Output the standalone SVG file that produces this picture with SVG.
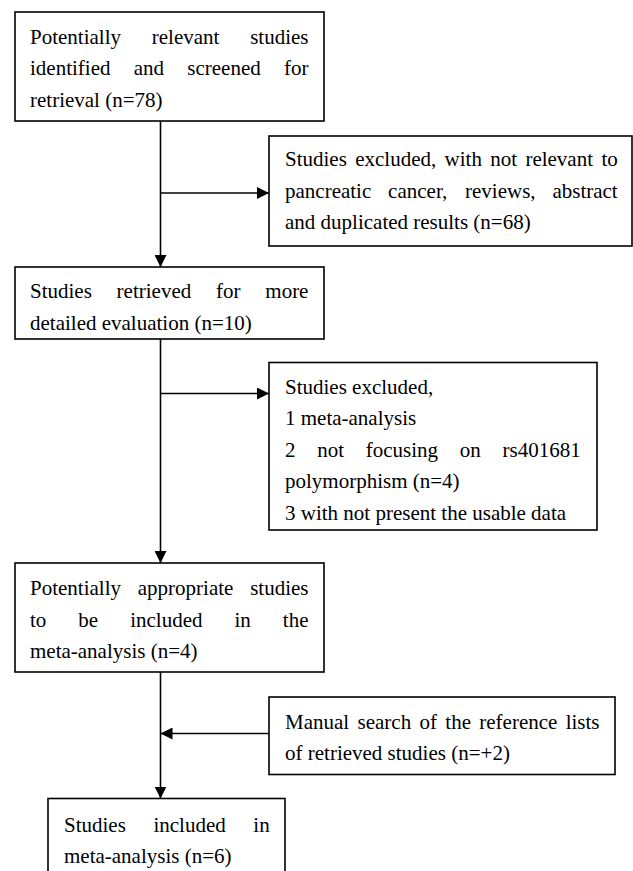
<svg xmlns="http://www.w3.org/2000/svg" width="633" height="871" viewBox="0 0 633 871">
<style>
.box{fill:#fff;stroke:#000;stroke-width:1.6}
.t{font-family:"Liberation Serif","Times New Roman",serif;font-size:21px;fill:#000}
.c{fill:none;stroke:#000;stroke-width:1.6}
</style>
<defs>
<marker id="ah" markerUnits="userSpaceOnUse" markerWidth="12" markerHeight="12" refX="12" refY="6" orient="auto">
<path d="M0,0 L12,6 L0,12 z" fill="#000"/>
</marker>
</defs>
<rect width="633" height="871" fill="#fff"/>
<g id="connectors">
<line class="c" x1="160.5" y1="121" x2="160.5" y2="267" marker-end="url(#ah)"/>
<line class="c" x1="160.5" y1="193" x2="269" y2="193" marker-end="url(#ah)"/>
<line class="c" x1="160.5" y1="339" x2="160.5" y2="563" marker-end="url(#ah)"/>
<line class="c" x1="160.5" y1="393.5" x2="269" y2="393.5" marker-end="url(#ah)"/>
<line class="c" x1="160.5" y1="672" x2="160.5" y2="798.5" marker-end="url(#ah)"/>
<line class="c" x1="269" y1="733.5" x2="160.5" y2="733.5" marker-end="url(#ah)"/>
</g>
<g id="node-identified">
<rect class="box" x="15" y="12" width="309" height="109"/>
<text class="t" y="43.5"><tspan x="30">Potentially</tspan><tspan x="151.8">relevant</tspan><tspan x="250.2">studies</tspan></text>
<text class="t" y="75"><tspan x="30">identified</tspan><tspan x="133.7">and</tspan><tspan x="187.3">screened</tspan><tspan x="284">for</tspan></text>
<text class="t" x="30" y="106.5">retrieval (n=78)</text>
</g>
<g id="node-excluded1">
<rect class="box" x="269" y="136" width="363" height="110"/>
<text class="t" y="166"><tspan x="285">Studies</tspan><tspan x="355.2">excluded,</tspan><tspan x="444.6">with</tspan><tspan x="490.2">not</tspan><tspan x="525.4">relevant</tspan><tspan x="601.4">to</tspan></text>
<text class="t" y="197.5"><tspan x="285">pancreatic</tspan><tspan x="388.1">cancer,</tspan><tspan x="465">reviews,</tspan><tspan x="552.4">abstract</tspan></text>
<text class="t" x="285" y="229">and duplicated results (n=68)</text>
</g>
<g id="node-retrieved">
<rect class="box" x="15" y="267" width="309" height="72"/>
<text class="t" y="298"><tspan x="30">Studies</tspan><tspan x="116.6">retrieved</tspan><tspan x="216.1">for</tspan><tspan x="265.3">more</tspan></text>
<text class="t" x="30" y="329.5">detailed evaluation (n=10)</text>
</g>
<g id="node-excluded2">
<rect class="box" x="269" y="362.5" width="328" height="167.5"/>
<text class="t" x="285" y="393.5">Studies excluded,</text>
<text class="t" x="285" y="425">1 meta-analysis</text>
<text class="t" y="456.7"><tspan x="285">2</tspan><tspan x="317.2">not</tspan><tspan x="365.7">focusing</tspan><tspan x="459.8">on</tspan><tspan x="502.5">rs401681</tspan></text>
<text class="t" x="285" y="488.3">polymorphism (n=4)</text>
<text class="t" x="285" y="520">3 with not present the usable data</text>
</g>
<g id="node-appropriate">
<rect class="box" x="15" y="563" width="309" height="109"/>
<text class="t" y="595"><tspan x="30">Potentially</tspan><tspan x="137.8">appropriate</tspan><tspan x="250.2">studies</tspan></text>
<text class="t" y="626.5"><tspan x="30">to</tspan><tspan x="78.3">be</tspan><tspan x="130.2">included</tspan><tspan x="234.5">in</tspan><tspan x="282.8">the</tspan></text>
<text class="t" x="30" y="658">meta-analysis (n=4)</text>
</g>
<g id="node-manual">
<rect class="box" x="269" y="697" width="346" height="77.5"/>
<text class="t" y="728.5"><tspan x="285">Manual</tspan><tspan x="357.5">search</tspan><tspan x="419.5">of</tspan><tspan x="445.3">the</tspan><tspan x="479.3">reference</tspan><tspan x="565.7">lists</tspan></text>
<text class="t" x="285" y="760">of retrieved studies (n=+2)</text>
</g>
<g id="node-included">
<rect class="box" x="48" y="798.5" width="237" height="90"/>
<text class="t" y="831.5"><tspan x="64">Studies</tspan><tspan x="153.4">included</tspan><tspan x="253.3">in</tspan></text>
<text class="t" x="64" y="863">meta-analysis (n=6)</text>
</g>
</svg>
